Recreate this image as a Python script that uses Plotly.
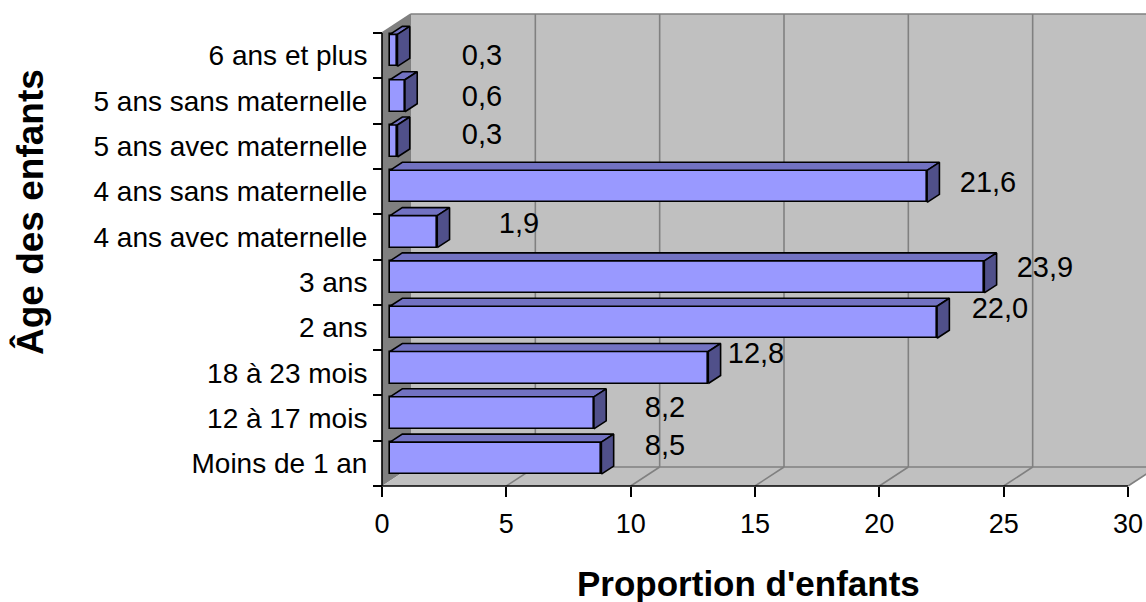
import plotly.graph_objects as go

# ---------------- data ----------------
categories = ["Moins de 1 an", "12 à 17 mois", "18 à 23 mois", "2 ans", "3 ans",
              "4 ans avec maternelle", "4 ans sans maternelle", "5 ans avec maternelle",
              "5 ans sans maternelle", "6 ans et plus"]
values = [8.5, 8.2, 12.8, 22.0, 23.9, 1.9, 21.6, 0.3, 0.6, 0.3]
value_labels = ["8,5", "8,2", "12,8", "22,0", "23,9", "1,9", "21,6", "0,3", "0,6", "0,3"]
x_ticks = [0, 5, 10, 15, 20, 25, 30]
x_title = "Proportion d'enfants"
y_title = "Âge des enfants"

# label nudges mimicking Excel's 3-D label placement (value units / category units)
label_dx = [2.88, 3.18, 2.24, 2.85, 2.76, 3.61, 2.77, 3.72, 3.42, 3.72]
label_dy = [0.34, 0.18, 0.37, 0.36, 0.27, 0.24, 0.14, 0.20, 0.04, -0.05]

# ---------------- geometry / style ----------------
W, H = 1146, 602
PL, PR, PT, PB = 372, W, 10, 492              # plot-area pixel box
X0_PX, Y0_PX = 382, 486                       # front axis origin
PX_UNIT = (1128 - 382) / 30.0                 # px per value unit
PX_SLOT = (486 - 33) / 10.0                   # px per category slot
DX, DY = 29 / PX_UNIT, 19 / PX_SLOT           # full depth offset
BAR_D0 = 0.276                                # depth of bar front face
BDX, BDY = 12.3 / PX_UNIT, 8 / PX_SLOT        # bar depth offset
BAR_H = 32 / PX_SLOT
NCAT = len(categories)
XMAX = max(x_ticks)

xr = [(PL - X0_PX) / PX_UNIT, (PR - X0_PX) / PX_UNIT]
yr = [(Y0_PX - PB) / PX_SLOT, (Y0_PX - PT) / PX_SLOT]

FONT = "Liberation Sans, Arial, sans-serif"
FRONT, TOP, SIDE = "#9999FF", "#7272C2", "#50508A"
WALL_BACK, WALL_SIDE, GRID = "#C0C0C0", "#808080", "#808080"

fig = go.Figure()

# ---------------- bars ----------------
bx0 = BAR_D0 * DX
centers = [i + 0.5 + BAR_D0 * DY for i in range(NCAT)]
fig.add_trace(go.Bar(orientation="h", y=centers, x=values, base=[bx0] * NCAT,
                     width=BAR_H, marker=dict(color=FRONT, line=dict(color="black", width=1.6)),
                     hoverinfo="skip", showlegend=False))
for v, yc in zip(values, centers):
    yt, yb = yc + BAR_H / 2, yc - BAR_H / 2
    xe = bx0 + v
    fig.add_trace(go.Scatter(x=[bx0, xe, xe + BDX, bx0 + BDX, bx0],
                             y=[yt, yt, yt + BDY, yt + BDY, yt],
                             fill="toself", fillcolor=TOP, mode="lines",
                             line=dict(color="black", width=1.6), hoverinfo="skip",
                             showlegend=False))
    fig.add_trace(go.Scatter(x=[xe, xe + BDX, xe + BDX, xe, xe],
                             y=[yb, yb + BDY, yt + BDY, yt, yb],
                             fill="toself", fillcolor=SIDE, mode="lines",
                             line=dict(color="black", width=1.6), hoverinfo="skip",
                             showlegend=False))

# data labels
fig.add_trace(go.Scatter(x=[v + d for v, d in zip(values, label_dx)],
                         y=[i + 0.5 + d for i, d in enumerate(label_dy)],
                         text=value_labels, mode="text", textposition="middle center",
                         textfont=dict(family=FONT, size=29, color="black"),
                         hoverinfo="skip", showlegend=False, cliponaxis=False))

# ---------------- walls, floor, gridlines ----------------
shapes = []
top = NCAT + DY
shapes.append(dict(type="rect", xref="x", yref="y", x0=DX, x1=XMAX + DX + 5, y0=DY, y1=top,
                   fillcolor=WALL_BACK, line=dict(width=0), layer="below"))
shapes.append(dict(type="path", xref="x", yref="y",
                   path=f"M 0 0 L 0 {NCAT} L {DX} {top} L {DX} {DY} Z",
                   fillcolor=WALL_SIDE, line=dict(width=0), layer="below"))
shapes.append(dict(type="path", xref="x", yref="y",
                   path=f"M 0 0 L {XMAX} 0 L {XMAX + DX} {DY} L {DX} {DY} Z",
                   fillcolor=WALL_BACK, line=dict(width=0), layer="below"))
def seg(xa, ya, xb, yb, color=GRID, w=1.6):
    shapes.append(dict(type="line", xref="x", yref="y", x0=xa, y0=ya, x1=xb, y1=yb,
                       line=dict(color=color, width=w), layer="below"))
seg(DX, top, XMAX + DX + 5, top)
seg(DX, DY, XMAX + DX, DY)
seg(0, NCAT, DX, top)
for t in x_ticks[1:]:
    seg(t, 0, t + DX, DY)
    seg(t + DX, DY, t + DX, top)
seg(0, 0, XMAX, 0, "black", 1.6)
seg(0, 0, 0, NCAT, "black", 1.6)

# ---------------- layout ----------------
def paper_x(px):
    return (px - PL) / (PR - PL)
def paper_y(py):
    return (PB - py) / (PB - PT)

fig.update_layout(
    width=W, height=H, autosize=False,
    margin=dict(l=PL, r=W - PR, t=PT, b=H - PB, pad=0),
    paper_bgcolor="white", plot_bgcolor="white",
    font=dict(family=FONT, size=27, color="black"),
    shapes=shapes, showlegend=False, bargap=0,
    xaxis=dict(range=xr, tickvals=x_ticks, ticktext=[str(t) for t in x_ticks],
               ticks="outside", ticklen=10, tickwidth=1.5, tickcolor="black",
               ticklabelstandoff=4,
               showgrid=False, zeroline=False, showline=False,
               anchor="free", position=paper_y(Y0_PX), fixedrange=True,
               tickfont=dict(family=FONT, size=27)),
    yaxis=dict(range=yr, tickvals=[i + 0.5 for i in range(NCAT)], ticktext=categories,
               ticks="outside", ticklen=9, tickcolor="rgba(0,0,0,0)",
               minor=dict(tickvals=list(range(NCAT + 1)), ticks="outside", ticklen=9,
                          tickcolor="black", tickwidth=1.5, showgrid=False),
               showgrid=False, zeroline=False, showline=False,
               anchor="free", position=paper_x(X0_PX), fixedrange=True,
               tickfont=dict(family=FONT, size=28)),
    annotations=[
        dict(text=f"<b>{x_title}</b>", xref="paper", yref="paper",
             x=paper_x(748), y=paper_y(583), xanchor="center", yanchor="middle",
             showarrow=False, font=dict(family=FONT, size=35, color="black")),
        dict(text=f"<b>{y_title}</b>", xref="paper", yref="paper",
             x=paper_x(30), y=paper_y(212), xanchor="center", yanchor="middle",
             textangle=-90, showarrow=False, font=dict(family=FONT, size=37, color="black")),
    ],
)

fig.write_html("out.html", config={"displayModeBar": False},
               post_script="document.body.style.margin='0';"
                           "document.body.style.overflow='hidden';")
